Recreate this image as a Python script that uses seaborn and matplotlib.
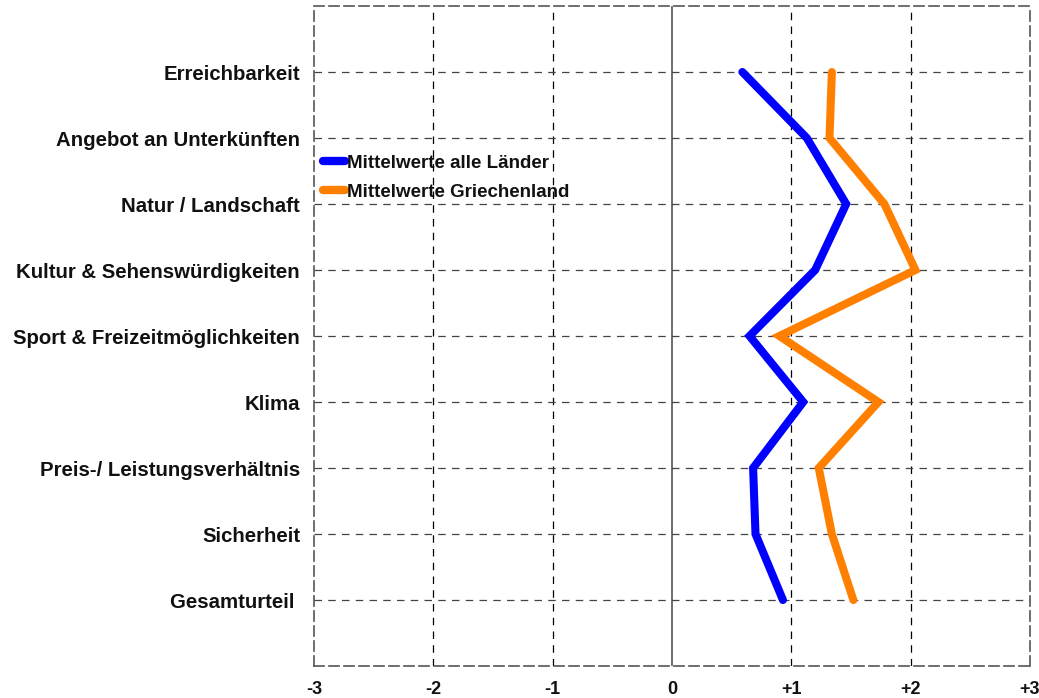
import pandas as pd
import seaborn as sns
import matplotlib.pyplot as plt

categories = ['Erreichbarkeit', 'Angebot an Unterkünften', 'Natur / Landschaft',
              'Kultur & Sehenswürdigkeiten', 'Sport & Freizeitmöglichkeiten', 'Klima',
              'Preis-/ Leistungsverhältnis', 'Sicherheit', 'Gesamturteil ']
alle_laender = [0.59, 1.13, 1.46, 1.20, 0.65, 1.10, 0.68, 0.70, 0.93]
griechenland = [1.34, 1.32, 1.78, 2.04, 0.90, 1.73, 1.23, 1.34, 1.52]
x_ticks = [-3, -2, -1, 0, 1, 2, 3]
x_labels = ['-3', '-2', '-1', '0', '+1', '+2', '+3']

df = pd.DataFrame({
    'pos': list(range(len(categories))) * 2,
    'wert': alle_laender + griechenland,
    'serie': ['Mittelwerte alle Länder'] * len(categories) + ['Mittelwerte Griechenland'] * len(categories),
})

sns.set_style('white')
plt.rcParams['font.family'] = ['Liberation Sans', 'DejaVu Sans']
plt.rcParams['font.weight'] = 'bold'
plt.rcParams['text.color'] = '#111111'
plt.rcParams['xtick.color'] = '#111111'
plt.rcParams['ytick.color'] = '#111111'

fig = plt.figure(figsize=(10.39, 6.98), dpi=100)
ax = fig.add_axes([0.3022, 0.0458, 0.6891, 0.9456])

ax.axvline(0, color='#555555', lw=1.2, zorder=1)
for xv in [-2, -1, 1, 2]:
    ax.axvline(xv, color='black', lw=0.9, ls=(0, (6, 5)), zorder=1)
for yv in range(len(categories)):
    ax.axhline(yv, color='#444444', lw=0.9, ls=(0, (6, 5)), zorder=1)

sns.lineplot(data=df, x='wert', y='pos', hue='serie', sort=False, estimator=None,
             palette=['#0000ff', '#ff8000'], lw=5.8, ax=ax, zorder=3,
             solid_capstyle='round', solid_joinstyle='miter')

ax.set_xlim(-3, 3)
ax.set_ylim(len(categories), -1)
ax.set_xticks(x_ticks)
ax.set_xticklabels(x_labels, fontsize=13, fontweight='bold')
ax.set_yticks(range(len(categories)))
ax.set_yticklabels(categories, fontsize=14.7, fontweight='bold')
ax.tick_params(axis='y', direction='in', length=5, pad=10, color='#333333')
ax.tick_params(axis='x', length=0, pad=11)
ax.set_xlabel('')
ax.set_ylabel('')
for s in ax.spines.values():
    s.set_linestyle((0, (6, 3)))
    s.set_color('#555555')
    s.set_linewidth(1.2)

leg = ax.legend(loc='center left', bbox_to_anchor=(0.012, 0.74), frameon=False,
                handlelength=1.2, handletextpad=0.1, borderaxespad=0.0, borderpad=0.0,
                labelspacing=0.65, prop={'size': 13.5, 'weight': 'bold'})
for line in leg.get_lines():
    line.set_linewidth(6)
    line.set_solid_capstyle('round')

fig.savefig('out.png', dpi=100)
